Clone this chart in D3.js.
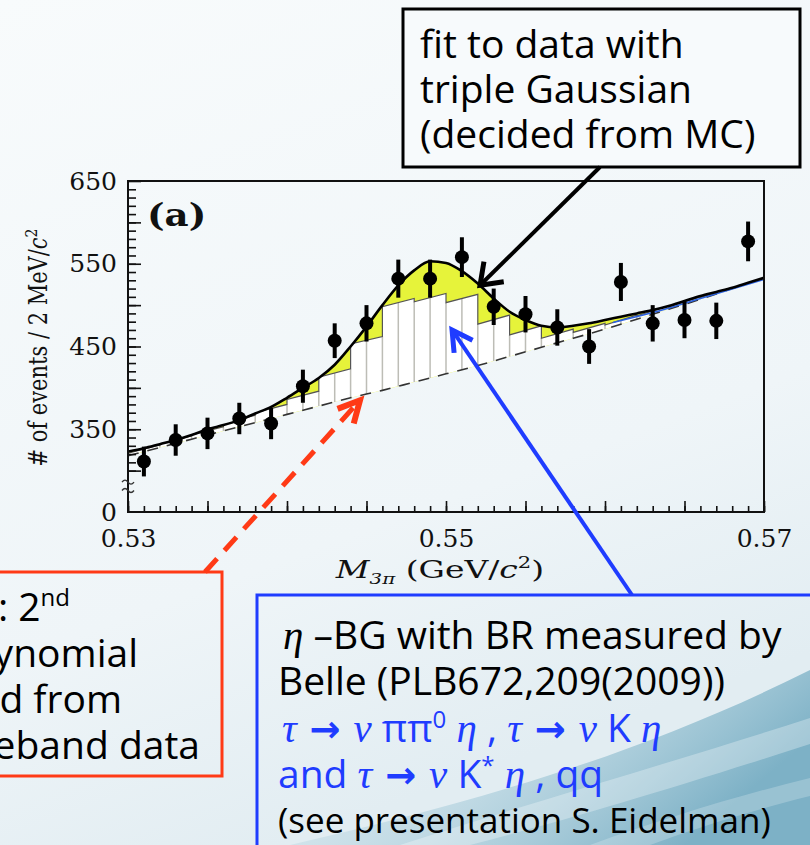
<!DOCTYPE html>
<html>
<head>
<meta charset="utf-8">
<script src="https://cdn.jsdelivr.net/npm/d3@7"></script>
<style>
  body { margin: 0; background: #f6f9fb; }
  svg { display: block; }
</style>
</head>
<body>
<svg id="slide" width="810" height="845"></svg>
<script>

// Data
// M(3pi) bin centres (2 MeV bins) and measured events per bin
const binCenters = [0.531, 0.533, 0.535, 0.537, 0.539, 0.541, 0.543, 0.545, 0.547, 0.549,
                    0.551, 0.553, 0.555, 0.557, 0.559, 0.561, 0.563, 0.565, 0.567, 0.569];
const counts = [311, 337, 345, 363, 357, 402, 457, 478, 532, 532,
                558, 498, 489, 473, 450, 528, 478, 482, 481, 577];
const countErrors = [18, 19, 19, 19, 19, 20, 21, 22, 23, 23,
                     24, 22, 22, 22, 21, 23, 22, 22, 22, 24];

// Fit curve (triple gaussian + background), read every 1 MeV
const fitMass = [0.530, 0.531, 0.532, 0.533, 0.534, 0.535, 0.536, 0.537, 0.538, 0.539,
                 0.540, 0.541, 0.542, 0.543, 0.544, 0.545, 0.546, 0.547, 0.548, 0.549,
                 0.550, 0.551, 0.552, 0.553, 0.554, 0.555, 0.556, 0.557, 0.558, 0.559,
                 0.560, 0.561, 0.562, 0.563, 0.564, 0.565, 0.566, 0.567, 0.568, 0.569, 0.570];
const fitValues = [323, 327, 332, 337, 343, 350, 355, 361, 369, 377,
                   388, 400, 412, 428, 450, 474, 500, 524, 542, 553,
                   551, 541, 526, 508, 492, 482, 475, 473, 475, 478,
                   482, 486, 490, 494, 499, 505, 511, 516, 521, 527, 533];

// 2nd order polynomial background (dashed), read at the bin edges
const binEdges = [0.530, 0.532, 0.534, 0.536, 0.538, 0.540, 0.542, 0.544, 0.546, 0.548, 0.550,
                  0.552, 0.554, 0.556, 0.558, 0.560, 0.562, 0.564, 0.566, 0.568, 0.570];
const polyBackground = [318, 328, 338, 348, 358, 368, 378, 388, 397, 407, 417,
                        427, 438, 449, 460, 471, 483, 495, 507, 520, 533];

// eta background histogram stacked on the polynomial (height per bin)
const etaBgHeights = [3, 4, 5, 9, 12, 18, 35, 65, 101, 97,
                      86, 50, 26, 11, 7, 5, 4, 3, 2, 1];

// thin blue total-background line at the right end
const blueMass = [0.5605, 0.563, 0.566, 0.570];
const blueValues = [479, 491, 508, 531];

// axis labels
const yTickLabels = [350, 450, 550, 650];
const xTickLabels = [0.53, 0.55, 0.57];

// Layout
const W = 810, H = 845;
const plot = {left: 128, right: 764, top: 181, bottom: 512};
const serif = "'DejaVu Serif', 'Liberation Serif', serif";
const boxFont = "'Open Sans', 'Noto Sans', sans-serif";
const greek = "'Liberation Serif', 'DejaVu Serif', serif";

const svg = d3.select('#slide');
const defs = svg.append('defs');

// Slide background
const bgGrad = defs.append('linearGradient').attr('id', 'bgGrad')
    .attr('x1', 0).attr('y1', 0).attr('x2', 0.35).attr('y2', 1);
bgGrad.append('stop').attr('offset', '0%').attr('stop-color', '#f8fbfc');
bgGrad.append('stop').attr('offset', '70%').attr('stop-color', '#eff5f8');
bgGrad.append('stop').attr('offset', '100%').attr('stop-color', '#e2edf2');

const waveGrad = defs.append('linearGradient').attr('id', 'waveGrad')
    .attr('x1', 0).attr('y1', 0).attr('x2', 1).attr('y2', 0.4);
waveGrad.append('stop').attr('offset', '0%').attr('stop-color', '#c4dde7').attr('stop-opacity', 0);
waveGrad.append('stop').attr('offset', '55%').attr('stop-color', '#a3c9d8').attr('stop-opacity', 0.55);
waveGrad.append('stop').attr('offset', '100%').attr('stop-color', '#7db1c6').attr('stop-opacity', 1);

svg.append('rect').attr('width', W).attr('height', H).attr('fill', 'url(#bgGrad)');
svg.append('path')
    .attr('d', 'M290,845 C460,805 630,760 810,670 L810,845 Z')
    .attr('fill', 'url(#waveGrad)');
svg.append('path')
    .attr('d', 'M400,845 C540,800 680,760 810,718 L810,744 C680,786 560,822 470,845 Z')
    .attr('fill', '#ffffff').attr('opacity', 0.3);
svg.append('path')
    .attr('d', 'M590,845 C665,818 740,795 810,778 L810,796 C745,812 685,832 650,845 Z')
    .attr('fill', '#ffffff').attr('opacity', 0.22);

// Scales
const x = d3.scaleLinear().domain([0.53, 0.57]).range([plot.left, plot.right]);
const y = d3.scaleLinear().domain([250, 650]).range([plot.bottom, plot.top]);

const g = svg.append('g');

// plot area clip
defs.append('clipPath').attr('id', 'plotClip')
  .append('rect')
    .attr('x', plot.left).attr('y', plot.top)
    .attr('width', plot.right - plot.left).attr('height', plot.bottom - plot.top);

const fitPts = fitMass.map((m, i) => [x(m), y(fitValues[i])]);
const bgPts = binEdges.map((m, i) => [x(m), y(polyBackground[i])]);

const smooth = d3.line().curve(d3.curveMonotoneX);
const straight = d3.line();

// area under the fit curve (used to clip the eta histogram)
const underFit = d3.area()
    .x((d, i) => x(fitMass[i]))
    .y0(plot.bottom)
    .y1(d => y(d))
    .curve(d3.curveMonotoneX);
defs.append('clipPath').attr('id', 'fitClip')
  .append('path').attr('d', underFit(fitValues));

const inner = g.append('g').attr('clip-path', 'url(#plotClip)');

// Yellow signal region: between fit curve and polynomial background
const yellowPath = smooth(fitPts) + 'L' + smooth(bgPts.slice().reverse()).slice(1) + 'Z';
inner.append('path')
    .attr('d', yellowPath)
    .attr('fill', '#e6f33a');

// eta background histogram (stacked on polynomial)
const histPts = [];
etaBgHeights.forEach((h, i) => {
  histPts.push([x(binEdges[i]), y(polyBackground[i] + h)]);
  histPts.push([x(binEdges[i + 1]), y(polyBackground[i + 1] + h)]);
});
const histArea = straight(histPts) + 'L' +
    straight(bgPts.slice().reverse()).slice(1) + 'Z';

const hist = inner.append('g').attr('clip-path', 'url(#fitClip)');
hist.append('path')
    .attr('d', histArea)
    .attr('fill', '#ffffff');

// vertical hatch lines at edges and centres of each bin
const hatch = [];
etaBgHeights.forEach((h, i) => {
  const m0 = binEdges[i], m1 = binEdges[i + 1];
  const b0 = polyBackground[i], b1 = polyBackground[i + 1];
  const bc = (b0 + b1) / 2;
  hatch.push({m: (m0 + m1) / 2, lo: bc, hi: bc + h});
  if (i > 0) {
    const hPrev = etaBgHeights[i - 1];
    hatch.push({m: m0, lo: b0, hi: b0 + Math.min(h, hPrev)});
  }
});
hist.selectAll('line.hatch')
  .data(hatch)
  .join('line')
    .attr('class', 'hatch')
    .attr('x1', d => x(d.m)).attr('x2', d => x(d.m))
    .attr('y1', d => y(d.lo)).attr('y2', d => y(d.hi))
    .attr('stroke', '#bdbdb6')
    .attr('stroke-width', 1.5);

hist.append('path')
    .attr('d', straight(histPts))
    .attr('fill', 'none')
    .attr('stroke', '#555')
    .attr('stroke-width', 1.2);

// Polynomial background (dashed)
inner.append('path')
    .attr('d', smooth(bgPts))
    .attr('fill', 'none')
    .attr('stroke', '#333')
    .attr('stroke-width', 1.6)
    .attr('stroke-dasharray', '11,9');

// blue line
inner.append('path')
    .attr('d', smooth(blueMass.map((m, i) => [x(m), y(blueValues[i])])))
    .attr('fill', 'none')
    .attr('stroke', '#2c63e0')
    .attr('stroke-width', 1.6);

// Fit curve
inner.append('path')
    .attr('d', smooth(fitPts))
    .attr('fill', 'none')
    .attr('stroke', '#000')
    .attr('stroke-width', 2.6);

// Data points with error bars
const pts = g.append('g');
pts.selectAll('line.err')
  .data(counts)
  .join('line')
    .attr('class', 'err')
    .attr('x1', (d, i) => x(binCenters[i])).attr('x2', (d, i) => x(binCenters[i]))
    .attr('y1', (d, i) => y(d - countErrors[i]))
    .attr('y2', (d, i) => y(d + countErrors[i]))
    .attr('stroke', '#000')
    .attr('stroke-width', 4);
pts.selectAll('circle')
  .data(counts)
  .join('circle')
    .attr('cx', (d, i) => x(binCenters[i]))
    .attr('cy', d => y(d))
    .attr('r', 7)
    .attr('fill', '#000');

// Frame
g.append('rect')
    .attr('x', plot.left).attr('y', plot.top)
    .attr('width', plot.right - plot.left).attr('height', plot.bottom - plot.top)
    .attr('fill', 'none')
    .attr('stroke', '#111')
    .attr('stroke-width', 2);

// Axes (ticks point inwards)
function styleAxis(sel) {
  sel.select('.domain').remove();
  sel.selectAll('.tick line').attr('stroke', '#111').attr('stroke-width', 1.6);
  sel.selectAll('.tick text')
      .attr('font-family', serif)
      .attr('font-size', 25)
      .attr('fill', '#111');
}

g.append('g')
    .attr('transform', `translate(${plot.left},0)`)
    .call(d3.axisLeft(y).tickValues(d3.range(300, 650, 10)).tickSize(-8).tickFormat(''))
    .call(styleAxis);
g.append('g')
    .attr('transform', `translate(${plot.left},0)`)
    .call(d3.axisLeft(y).tickValues(d3.range(300, 651, 50)).tickSize(-13).tickFormat(''))
    .call(styleAxis);
g.append('g')
    .attr('transform', `translate(${plot.left},0)`)
    .call(d3.axisLeft(y).tickValues(yTickLabels).tickSize(0).tickPadding(11).tickFormat(d3.format('d')))
    .call(styleAxis);

// suppressed zero at the bottom of the broken axis
g.append('text')
    .attr('x', plot.left - 11).attr('y', y(250))
    .attr('dy', '0.36em')
    .attr('text-anchor', 'end')
    .attr('font-family', serif).attr('font-size', 25).attr('fill', '#111')
    .text('0');
g.append('g').selectAll('path')
  .data([286, 276])
  .join('path')
    .attr('d', d => `M${plot.left - 6},${y(d)} q3,-4 6,0 t6,0`)
    .attr('fill', 'none')
    .attr('stroke', '#333')
    .attr('stroke-width', 1.3);

g.append('g')
    .attr('transform', `translate(0,${plot.bottom})`)
    .call(d3.axisBottom(x).tickValues(d3.range(0, 41).map(k => 0.53 + k * 0.001)).tickSize(-6).tickFormat(''))
    .call(styleAxis);
g.append('g')
    .attr('transform', `translate(0,${plot.bottom})`)
    .call(d3.axisBottom(x).tickValues(d3.range(0, 9).map(k => 0.53 + k * 0.005)).tickSize(-11).tickFormat(''))
    .call(styleAxis);
g.append('g')
    .attr('transform', `translate(0,${plot.bottom})`)
    .call(d3.axisBottom(x).tickValues(xTickLabels).tickSize(0).tickPadding(22).tickFormat(d3.format('.2f')))
    .call(styleAxis)
    .selectAll('.tick text').attr('dy', '0.5em');

// Axis titles (the figure is stretched horizontally, so the titles are too)
const yTitle = g.append('text')
    .attr('transform', `translate(47,${(plot.top + plot.bottom) / 2 + 1}) scale(1.2,1) rotate(-90)`)
    .attr('text-anchor', 'middle')
    .attr('font-family', serif).attr('font-size', 21).attr('fill', '#111');
yTitle.append('tspan').text('# of events / 2 MeV/');
yTitle.append('tspan').attr('font-style', 'italic').text('c');
yTitle.append('tspan').attr('dy', -8).attr('font-size', 14).text('2');

const xTitle = g.append('text')
    .attr('transform', `translate(${x(0.55) - 6},578) scale(1.32,1)`)
    .attr('text-anchor', 'middle')
    .attr('font-family', serif).attr('font-size', 25).attr('fill', '#111');
xTitle.append('tspan').attr('font-style', 'italic').text('M');
xTitle.append('tspan').attr('dy', 6).attr('font-size', 15).attr('font-style', 'italic').text('3π');
xTitle.append('tspan').attr('dy', -6).text(' (GeV/');
xTitle.append('tspan').attr('font-style', 'italic').text('c');
xTitle.append('tspan').attr('dy', -10).attr('font-size', 16).text('2');
xTitle.append('tspan').attr('dy', 10).text(')');

g.append('text')
    .attr('transform', 'translate(147,226) scale(1.2,1)')
    .attr('font-family', serif).attr('font-size', 31).attr('font-weight', 'bold')
    .attr('fill', '#111')
    .text('(a)');

// Annotations
const ann = svg.append('g');

function arrow(sel, tip, tail, color, width, armLen, armAngle, dash) {
  const line = sel.append('line')
      .attr('x1', tail[0]).attr('y1', tail[1])
      .attr('x2', tip[0]).attr('y2', tip[1])
      .attr('stroke', color).attr('stroke-width', width);
  if (dash) line.attr('stroke-dasharray', dash);
  const ang = Math.atan2(tail[1] - tip[1], tail[0] - tip[0]);
  const a = armAngle * Math.PI / 180;
  const arms = [ang - a, ang + a].map(t => [tip[0] + armLen * Math.cos(t), tip[1] + armLen * Math.sin(t)]);
  sel.append('path')
      .attr('d', `M${arms[0][0]},${arms[0][1]} L${tip[0]},${tip[1]} L${arms[1][0]},${arms[1][1]}`)
      .attr('fill', 'none')
      .attr('stroke', color).attr('stroke-width', width + 1)
      .attr('stroke-linecap', 'butt');
}

// top box: fit description
ann.append('rect')
    .attr('x', 403).attr('y', 9).attr('width', 397).attr('height', 158)
    .attr('fill', '#f7fafc').attr('stroke', '#000').attr('stroke-width', 3);
ann.append('text')
    .attr('font-family', boxFont).attr('font-size', 39).attr('fill', '#000')
  .selectAll('tspan')
  .data(['fit to data with', 'triple Gaussian', '(decided from MC)'])
  .join('tspan')
    .attr('x', 420)
    .attr('y', (d, i) => 58 + i * 45)
    .text(d => d);

arrow(ann, [x(0.55214), y(524)], [600, 167], '#000', 4, 24, 36);

// red box: polynomial background
ann.append('rect')
    .attr('x', -10).attr('y', 572).attr('width', 232).attr('height', 204)
    .attr('fill', 'none').attr('stroke', '#ff3a16').attr('stroke-width', 3);
const redText = ann.append('g')
    .attr('font-family', boxFont).attr('font-size', 39).attr('fill', '#000')
    .attr('text-anchor', 'end');
const l1 = redText.append('text').attr('x', 70).attr('y', 621);
l1.append('tspan').text('BG : 2');
l1.append('tspan').attr('dy', -15).attr('font-size', 24).text('nd');
redText.append('text').attr('x', 138).attr('y', 667).text('polynomial');
redText.append('text').attr('x', 122).attr('y', 713).text('determined from');
redText.append('text').attr('x', 200).attr('y', 759).text('sideband data');

arrow(ann, [x(0.54459), y(385)], [205, 572], '#ff3a16', 5, 24, 27, '18,11');

// blue box: eta background
ann.append('rect')
    .attr('x', 257).attr('y', 595).attr('width', 580).attr('height', 280)
    .attr('fill', 'none').attr('stroke', '#1f3cff').attr('stroke-width', 3);

arrow(ann, [x(0.55038), y(470)], [632, 595], '#1f3cff', 4, 23, 29);

const blueText = ann.append('g')
    .attr('font-family', boxFont).attr('font-size', 39)
    .style('white-space', 'pre');

const b1 = blueText.append('text').attr('x', 283).attr('y', 649).attr('fill', '#000');
b1.append('tspan').attr('font-family', greek).attr('font-style', 'italic').attr('font-size', 41).text('η');
b1.append('tspan').text(' –BG with BR measured by');

blueText.append('text').attr('x', 278).attr('y', 695).attr('fill', '#000')
    .text('Belle (PLB672,209(2009))');

function decay(t, parts) {
  parts.forEach(p => {
    const s = t.append('tspan').text(p.s);
    if (p.greek) s.attr('font-family', greek).attr('font-style', 'italic').attr('font-size', 41);
    if (p.arrow) s.attr('font-weight', 'bold').attr('font-family', "'DejaVu Sans', sans-serif").attr('font-size', 37);
    if (p.sup) s.attr('dy', -14).attr('font-size', 24);
    if (p.down) s.attr('dy', 14);
  });
}

const b3 = blueText.append('text').attr('x', 282).attr('y', 742).attr('fill', '#1f3cff');
decay(b3, [
  {s: 'τ', greek: true}, {s: ' → ', arrow: true}, {s: 'ν', greek: true},
  {s: ' ππ'}, {s: '0', sup: true}, {s: ' η', greek: true, down: true}, {s: ' ,  '},
  {s: 'τ', greek: true}, {s: ' → ', arrow: true}, {s: 'ν', greek: true},
  {s: ' K '}, {s: 'η', greek: true}
]);

const b4 = blueText.append('text').attr('x', 278).attr('y', 788).attr('fill', '#1f3cff');
decay(b4, [
  {s: 'and  '}, {s: 'τ', greek: true}, {s: ' → ', arrow: true}, {s: 'ν', greek: true},
  {s: ' K'}, {s: '*', sup: true}, {s: ' η', greek: true, down: true}, {s: ' , qq'}
]);

blueText.append('text').attr('x', 278).attr('y', 833).attr('fill', '#000')
    .attr('font-size', 35)
    .text('(see presentation S. Eidelman)');

</script>
</body>
</html>
